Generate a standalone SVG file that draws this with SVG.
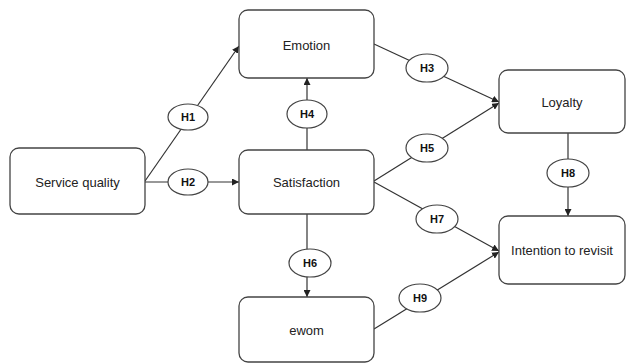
<svg xmlns="http://www.w3.org/2000/svg" width="626" height="364" viewBox="0 0 626 364">
<style>
.box{fill:#fff;stroke:#444;stroke-width:1.3}
.ell{fill:#fff;stroke:#444;stroke-width:1.2}
.t{font-family:"Liberation Sans",Arial,sans-serif;font-size:13px;fill:#222;text-anchor:middle;dominant-baseline:central}
.h{font-family:"Liberation Sans",Arial,sans-serif;font-size:11px;font-weight:bold;fill:#111;text-anchor:middle;dominant-baseline:central}
.c{stroke:#333;stroke-width:1.2;fill:none}
</style>
<defs>
<marker id="a" viewBox="0 0 10 10" refX="10" refY="5" markerWidth="7" markerHeight="7" markerUnits="userSpaceOnUse" orient="auto">
<path d="M0,0 L10,5 L0,10 z" fill="#222"/>
</marker>
</defs>
<g id="connectors">
<line class="c" x1="145" y1="181" x2="239" y2="46" marker-end="url(#a)"/>
<line class="c" x1="145" y1="182" x2="239" y2="182" marker-end="url(#a)"/>
<line class="c" x1="307" y1="150" x2="307" y2="78" marker-end="url(#a)"/>
<line class="c" x1="374" y1="44" x2="499" y2="102" marker-end="url(#a)"/>
<line class="c" x1="374" y1="181" x2="499" y2="103" marker-end="url(#a)"/>
<line class="c" x1="568" y1="133" x2="568" y2="216" marker-end="url(#a)"/>
<line class="c" x1="374" y1="182" x2="499" y2="251" marker-end="url(#a)"/>
<line class="c" x1="374" y1="329" x2="499" y2="252" marker-end="url(#a)"/>
<line class="c" x1="307" y1="214" x2="307" y2="297" marker-end="url(#a)"/>
</g>
<g id="service-quality"><rect class="box" x="10" y="148" width="135" height="66" rx="9"/><text class="t" x="77.5" y="182">Service quality</text></g>
<g id="emotion"><rect class="box" x="239" y="10" width="135" height="68" rx="9"/><text class="t" x="306.5" y="45">Emotion</text></g>
<g id="satisfaction"><rect class="box" x="239" y="150" width="135" height="64" rx="9"/><text class="t" x="306.5" y="182">Satisfaction</text></g>
<g id="ewom"><rect class="box" x="239" y="297" width="135" height="65" rx="9"/><text class="t" x="306.5" y="330">ewom</text></g>
<g id="loyalty"><rect class="box" x="499" y="70" width="126" height="63" rx="9"/><text class="t" x="562" y="102">Loyalty</text></g>
<g id="intention"><rect class="box" x="499" y="216" width="126" height="68" rx="9"/><text class="t" x="562" y="250">Intention to revisit</text></g>
<g id="H1"><ellipse class="ell" cx="188" cy="117" rx="20" ry="13"/><text class="h" x="188" y="117">H1</text></g>
<g id="H2"><ellipse class="ell" cx="188" cy="182" rx="20" ry="13"/><text class="h" x="188" y="182">H2</text></g>
<g id="H4"><ellipse class="ell" cx="307" cy="114" rx="20" ry="14"/><text class="h" x="307" y="114">H4</text></g>
<g id="H3"><ellipse class="ell" cx="427" cy="68" rx="21" ry="14"/><text class="h" x="427" y="68">H3</text></g>
<g id="H5"><ellipse class="ell" cx="427" cy="148" rx="21" ry="14"/><text class="h" x="427" y="148">H5</text></g>
<g id="H8"><ellipse class="ell" cx="568" cy="173" rx="21" ry="14"/><text class="h" x="568" y="173">H8</text></g>
<g id="H7"><ellipse class="ell" cx="437" cy="219" rx="21" ry="14"/><text class="h" x="437" y="219">H7</text></g>
<g id="H6"><ellipse class="ell" cx="310" cy="263" rx="21" ry="14"/><text class="h" x="310" y="263">H6</text></g>
<g id="H9"><ellipse class="ell" cx="420" cy="298" rx="21" ry="14"/><text class="h" x="420" y="298">H9</text></g>
</svg>
